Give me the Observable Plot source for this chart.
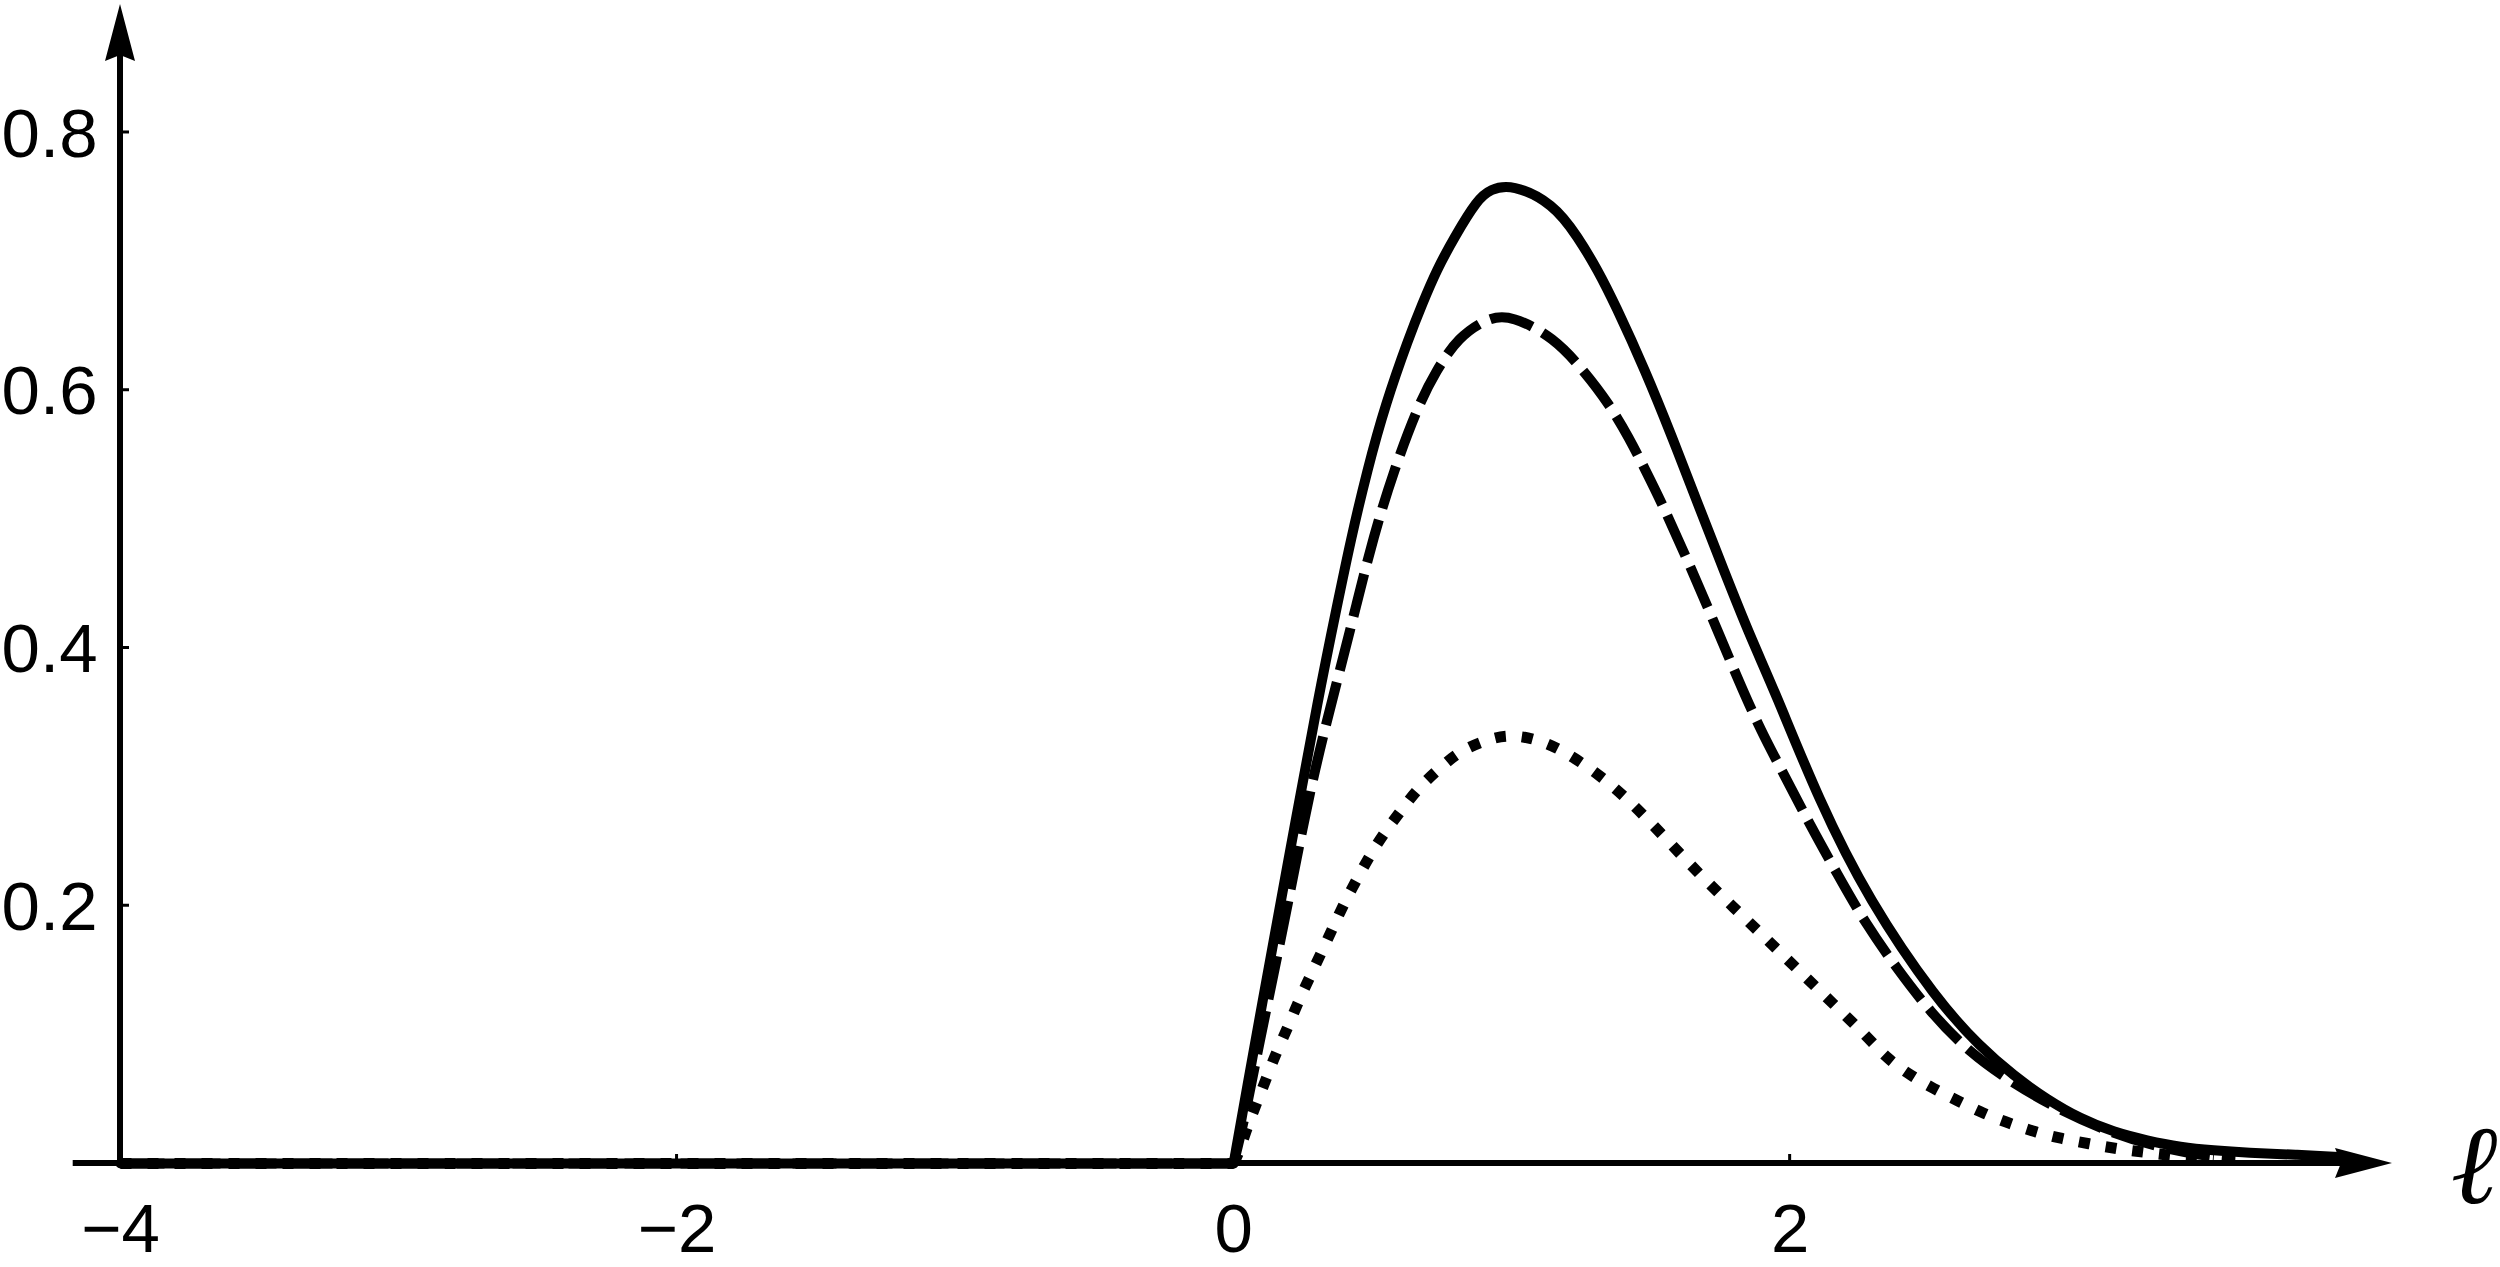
<!DOCTYPE html>
<html>
<head>
<meta charset="utf-8">
<script src="https://cdn.jsdelivr.net/npm/d3@7"></script>
<script src="https://cdn.jsdelivr.net/npm/@observablehq/plot@0.6"></script>
<style>
  html, body { margin: 0; padding: 0; background: #fff; }
  #chart svg { display: block; }
</style>
</head>
<body>
<div id="chart"></div>
<script>
// ---- data ----
const solidX = [-4, 0, 0.05, 0.1, 0.193, 0.309, 0.373, 0.420, 0.480, 0.546, 0.630, 0.678, 0.729, 0.794, 0.876, 0.923, 1.0, 1.149, 1.237, 1.309, 1.370, 1.480, 1.576, 1.668, 1.762, 1.858, 1.944, 2.103, 2.283, 2.528, 2.684, 2.804, 2.924, 3.043, 3.163, 3.283, 3.403, 3.522, 3.642, 3.822, 4.0];
const solidY = [0, 0, 0.061, 0.121, 0.231, 0.367, 0.434, 0.483, 0.538, 0.5895, 0.641, 0.667, 0.693, 0.719, 0.748, 0.756, 0.760, 0.745, 0.719, 0.693, 0.667, 0.615, 0.5636, 0.512, 0.460, 0.408, 0.367, 0.2817, 0.204, 0.1265, 0.0903, 0.068, 0.0495, 0.0347, 0.0243, 0.0178, 0.0127, 0.0101, 0.0083, 0.0068, 0.0048];

const dashedX = [-4, 0, 0.04, 0.083, 0.193, 0.277, 0.382, 0.442, 0.502, 0.576, 0.666, 0.728, 0.806, 0.917, 1.0, 1.151, 1.259, 1.349, 1.420, 1.480, 1.540, 1.648, 1.744, 1.816, 1.894, 1.983, 2.073, 2.169, 2.271, 2.385, 2.504, 2.642, 2.804, 2.972, 3.163, 3.343, 3.522, 3.6];
const dashedY = [0, 0, 0.035, 0.084, 0.198, 0.2946, 0.3825, 0.434, 0.486, 0.538, 0.5895, 0.615, 0.641, 0.6567, 0.658, 0.641, 0.615, 0.5895, 0.5636, 0.538, 0.512, 0.460, 0.411, 0.374, 0.336, 0.2998, 0.262, 0.2248, 0.186, 0.151, 0.1174, 0.0864, 0.0618, 0.0411, 0.023, 0.0114, 0.0049, 0.004];

const dottedX = [-4, 0, 0.018, 0.043, 0.079, 0.115, 0.151, 0.193, 0.229, 0.271, 0.313, 0.355, 0.396, 0.444, 0.492, 0.546, 0.606, 0.666, 0.744, 0.816, 0.917, 1.0, 1.103, 1.199, 1.319, 1.438, 1.558, 1.678, 1.798, 1.918, 2.037, 2.157, 2.277, 2.349, 2.433, 2.516, 2.600, 2.696, 2.792, 2.882, 2.977, 3.073, 3.175, 3.271, 3.403, 3.522];
const dottedY = [0, 0, 0.0078, 0.0243, 0.045, 0.0644, 0.0851, 0.1045, 0.1239, 0.1433, 0.1627, 0.182, 0.2015, 0.221, 0.240, 0.258, 0.275, 0.292, 0.3075, 0.3205, 0.3295, 0.333, 0.3285, 0.3185, 0.301, 0.2785, 0.251, 0.2235, 0.1985, 0.1735, 0.1485, 0.1235, 0.0985, 0.0812, 0.0683, 0.058, 0.0489, 0.0386, 0.0308, 0.0243, 0.0192, 0.0153, 0.0114, 0.0088, 0.0054, 0.0036];

const xTicks = [-4, -2, 0, 2];
const yTicks = [0.2, 0.4, 0.6, 0.8];
const xDomain = [-4.17, 4.17];
const yDomain = [0, 0.9];
const axisLabel = "\u2113";

// ---- build ----
const rows = (xs, ys) => xs.map((x, i) => ({x, y: ys[i]}));
const flat = r => r.filter(d => d.x <= 0);
const bump = r => r.filter(d => d.x >= 0);
const fmtX = v => v < 0 ? "\u2212" + Math.abs(v) : String(v);
const fmtY = v => v.toFixed(1);

const solid = rows(solidX, solidY);
const dashed = rows(dashedX, dashedY);
const dotted = rows(dottedX, dottedY);

const dotStyle = {x: "x", y: "y", stroke: "black", strokeWidth: 11, strokeDasharray: "11,16", strokeLinecap: "butt"};
const dashStyle = {x: "x", y: "y", stroke: "black", strokeWidth: 10, strokeDasharray: "44,12", strokeLinecap: "butt"};
const solidStyle = {x: "x", y: "y", stroke: "black", strokeWidth: 10, strokeLinejoin: "round"};

const plot = Plot.plot({
  width: 2500,
  height: 1267,
  marginLeft: 72.7,
  marginRight: 106.5,
  marginTop: 3.1,
  marginBottom: 104,
  x: {domain: xDomain, axis: null},
  y: {domain: yDomain, axis: null},
  style: {background: "white", fontFamily: "'Liberation Sans', Arial, sans-serif", overflow: "visible"},
  marks: [
    Plot.line(flat(dotted), {...dotStyle, curve: "linear"}),
    Plot.line(bump(dotted), {...dotStyle, curve: "basis"}),
    Plot.line(flat(dashed), {...dashStyle, curve: "linear"}),
    Plot.line(bump(dashed), {...dashStyle, curve: "basis"}),
    Plot.line(flat(solid), {...solidStyle, curve: "linear"}),
    Plot.line(bump(solid), {...solidStyle, curve: "basis"}),
    Plot.text(xTicks, {x: d => d, y: 0, text: fmtX, lineAnchor: "top", textAnchor: "middle", dy: 39, fontSize: 69, fill: "black"}),
    Plot.text(yTicks, {x: xTicks[0], y: d => d, text: fmtY, lineAnchor: "middle", textAnchor: "end", dx: -23, dy: 2, fontSize: 69, fill: "black"}),
    Plot.text([axisLabel], {frameAnchor: "bottom-right", text: d => d, dx: 80, dy: 4, lineAnchor: "middle", textAnchor: "middle", fontSize: 112, fontStyle: "italic", fontFamily: "'Liberation Serif', 'DejaVu Serif', serif", fill: "black"})
  ]
});

// ---- axis lines, ticks and arrowheads via the plot's scales ----
const sx = plot.scale("x"), sy = plot.scale("y");
const X = v => sx.apply(v), Y = v => sy.apply(v);
const svg = d3.select(plot);
const axisG = svg.append("g").attr("class", "axes");
const arrowLen = 57, arrowHalf = 15, notch = 6, axisW = 6;
const yb = Y(0);
const xa = X(xTicks[0]);
const xTip = X(xDomain[1]) - 1.5;
const yTip = Y(yDomain[1]) + 1;

axisG.append("line")
  .attr("x1", X(xDomain[0])).attr("x2", xTip - arrowLen + notch)
  .attr("y1", yb).attr("y2", yb)
  .attr("stroke", "black").attr("stroke-width", axisW);
axisG.append("line")
  .attr("x1", xa).attr("x2", xa)
  .attr("y1", yb + axisW / 2).attr("y2", yTip + arrowLen - notch)
  .attr("stroke", "black").attr("stroke-width", axisW);

// ticks
xTicks.forEach(t => {
  axisG.append("line").attr("x1", X(t)).attr("x2", X(t))
    .attr("y1", yb).attr("y2", yb - 9).attr("stroke", "black").attr("stroke-width", 3);
});
yTicks.forEach(t => {
  axisG.append("line").attr("x1", xa).attr("x2", xa + 9)
    .attr("y1", Y(t)).attr("y2", Y(t)).attr("stroke", "black").attr("stroke-width", 3);
});

// arrowheads
axisG.append("path")
  .attr("d", `M${xTip},${yb}L${xTip - arrowLen},${yb - arrowHalf}L${xTip - arrowLen + notch},${yb}L${xTip - arrowLen},${yb + arrowHalf}Z`)
  .attr("fill", "black");
axisG.append("path")
  .attr("d", `M${xa},${yTip}L${xa - arrowHalf},${yTip + arrowLen}L${xa},${yTip + arrowLen - notch}L${xa + arrowHalf},${yTip + arrowLen}Z`)
  .attr("fill", "black");

document.getElementById("chart").appendChild(plot);
</script>
</body>
</html>
